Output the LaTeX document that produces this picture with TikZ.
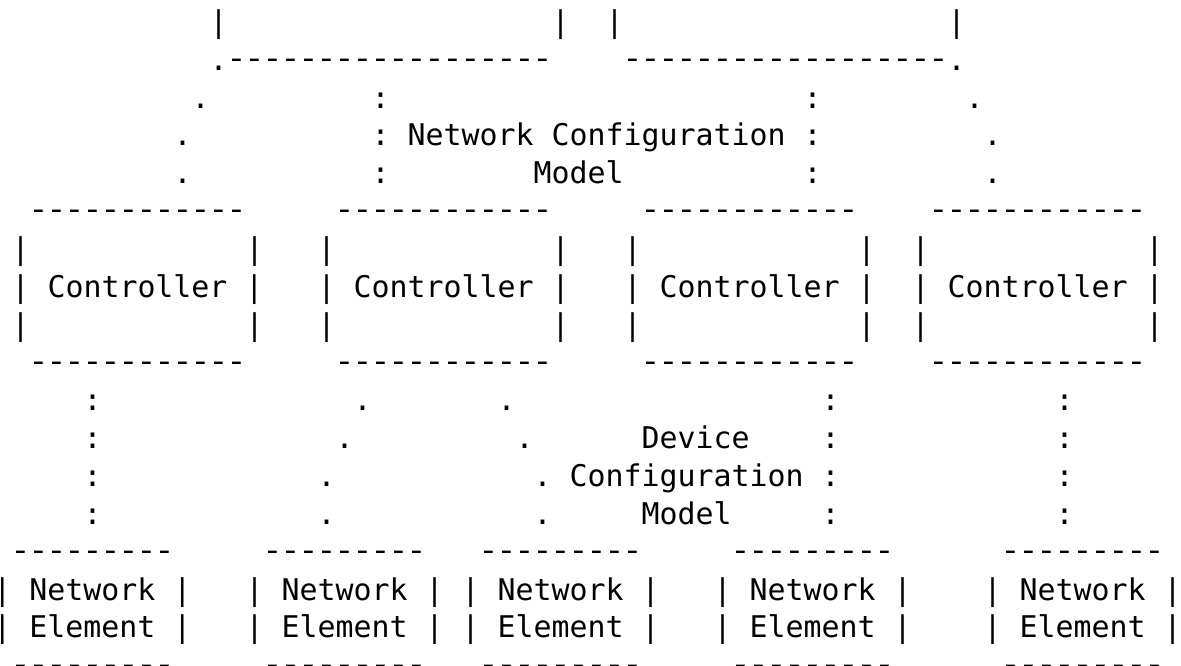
\documentclass[tikz,border=0pt]{standalone}
\usepackage{fontspec}
\usepackage{graphicx}
\newfontfamily\asciifont{DejaVu Sans Mono}
\newcommand\onedash{\makebox[9pt]{\raisebox{0.9pt}{\scalebox{1.15}[1]{-}}}}
\newcommand\dashrun[1]{\foreach \dk in {1,...,#1}{\onedash}}
\newcommand\putc[4]{\node[asc] (#1) at ({-3.25pt+9pt*#2},{-148.65pt-18.925pt*(#3-8)}) {#4};}
\tikzset{asc/.style={anchor=base west, inner sep=0pt, outer sep=0pt,
  font=\asciifont\fontsize{14.95pt}{18pt}\selectfont, text=black}}
\begin{document}
\begin{tikzpicture}
\fill[white] (0,0) rectangle (590.5pt,-332.5pt);
\useasboundingbox (0,0) rectangle (590.5pt,-332.5pt);
% row 1
\putc{ra1}{12}{1}{|}
\putc{ra2}{31}{1}{|}
\putc{ra3}{34}{1}{|}
\putc{ra4}{53}{1}{|}
% row 2
\putc{rb1}{12}{2}{.\dashrun{18}}
\putc{rb2}{35}{2}{\dashrun{18}.}
% row 3
\putc{rc1}{11}{3}{.}
\putc{rc2}{21}{3}{:}
\putc{rc3}{45}{3}{:}
\putc{rc4}{54}{3}{.}
% row 4
\putc{rd1}{10}{4}{.}
\putc{rd2}{21}{4}{:}
\putc{ncm1}{23}{4}{Network Configuration}
\putc{rd3}{45}{4}{:}
\putc{rd4}{55}{4}{.}
% row 5
\putc{re1}{10}{5}{.}
\putc{re2}{21}{5}{:}
\putc{ncm2}{30}{5}{Model}
\putc{re3}{45}{5}{:}
\putc{re4}{55}{5}{.}
% controller boxes
\putc{cta}{2}{6}{\dashrun{12}}
\putc{ctb}{19}{6}{\dashrun{12}}
\putc{ctc}{36}{6}{\dashrun{12}}
\putc{ctd}{52}{6}{\dashrun{12}}
\putc{cua1}{1}{7}{|}\putc{cua2}{14}{7}{|}
\putc{cub1}{18}{7}{|}\putc{cub2}{31}{7}{|}
\putc{cuc1}{35}{7}{|}\putc{cuc2}{48}{7}{|}
\putc{cud1}{51}{7}{|}\putc{cud2}{64}{7}{|}
\putc{ca}{1}{8}{| Controller |}
\putc{cb}{18}{8}{| Controller |}
\putc{cc}{35}{8}{| Controller |}
\putc{cd}{51}{8}{| Controller |}
\putc{cla1}{1}{9}{|}\putc{cla2}{14}{9}{|}
\putc{clb1}{18}{9}{|}\putc{clb2}{31}{9}{|}
\putc{clc1}{35}{9}{|}\putc{clc2}{48}{9}{|}
\putc{cld1}{51}{9}{|}\putc{cld2}{64}{9}{|}
\putc{cba}{2}{10}{\dashrun{12}}
\putc{cbb}{19}{10}{\dashrun{12}}
\putc{cbc}{36}{10}{\dashrun{12}}
\putc{cbd}{52}{10}{\dashrun{12}}
% row 11
\putc{rk1}{5}{11}{:}
\putc{rk2}{20}{11}{.}
\putc{rk3}{28}{11}{.}
\putc{rk4}{46}{11}{:}
\putc{rk5}{59}{11}{:}
% row 12
\putc{rl1}{5}{12}{:}
\putc{rl2}{19}{12}{.}
\putc{rl3}{29}{12}{.}
\putc{dcm1}{36}{12}{Device}
\putc{rl4}{46}{12}{:}
\putc{rl5}{59}{12}{:}
% row 13
\putc{rm1}{5}{13}{:}
\putc{rm2}{18}{13}{.}
\putc{rm3}{30}{13}{.}
\putc{dcm2}{32}{13}{Configuration}
\putc{rm4}{46}{13}{:}
\putc{rm5}{59}{13}{:}
% row 14
\putc{rn1}{5}{14}{:}
\putc{rn2}{18}{14}{.}
\putc{rn3}{30}{14}{.}
\putc{dcm3}{36}{14}{Model}
\putc{rn4}{46}{14}{:}
\putc{rn5}{59}{14}{:}
% network elements
\putc{nta}{1}{15}{\dashrun{9}}
\putc{ntb}{15}{15}{\dashrun{9}}
\putc{ntc}{27}{15}{\dashrun{9}}
\putc{ntd}{41}{15}{\dashrun{9}}
\putc{nte}{56}{15}{\dashrun{9}}
\putc{nea}{0}{16}{| Network |}
\putc{neb}{14}{16}{| Network |}
\putc{nec}{26}{16}{| Network |}
\putc{ned}{40}{16}{| Network |}
\putc{nee}{55}{16}{| Network |}
\putc{eea}{0}{17}{| Element |}
\putc{eeb}{14}{17}{| Element |}
\putc{eec}{26}{17}{| Element |}
\putc{eed}{40}{17}{| Element |}
\putc{eee}{55}{17}{| Element |}
\putc{nba}{1}{18}{\dashrun{9}}
\putc{nbb}{15}{18}{\dashrun{9}}
\putc{nbc}{27}{18}{\dashrun{9}}
\putc{nbd}{41}{18}{\dashrun{9}}
\putc{nbe}{56}{18}{\dashrun{9}}
\end{tikzpicture}
\end{document}
